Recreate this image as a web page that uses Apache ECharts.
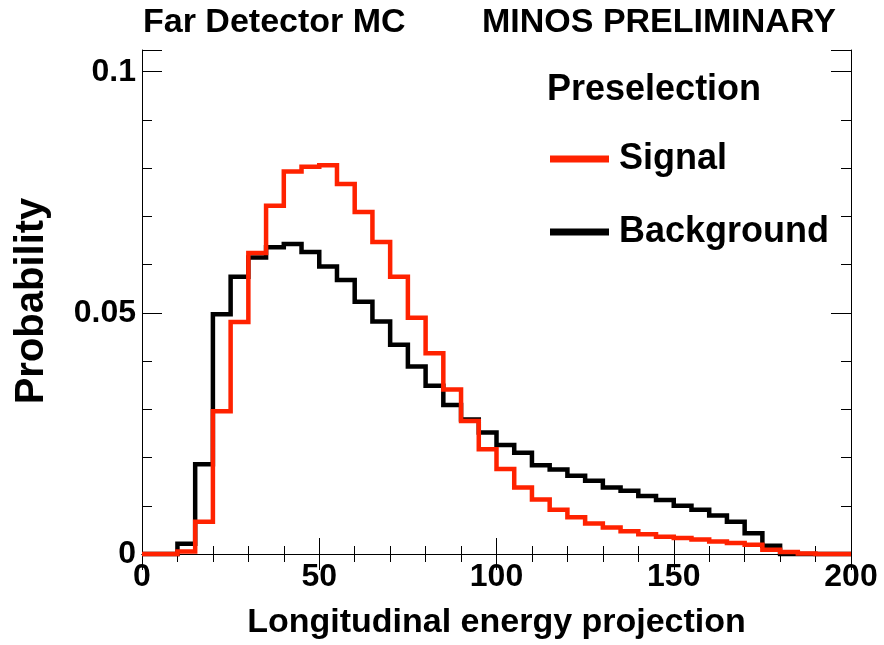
<!DOCTYPE html>
<html>
<head>
<meta charset="utf-8">
<script src="https://cdn.jsdelivr.net/npm/echarts@6/dist/echarts.min.js"></script>
<style>
  html, body { margin: 0; padding: 0; background: #fff; }
  #chart { width: 884px; height: 645px; }
</style>
</head>
<body>
<div id="chart"></div>
<script>
// Bin edges (width 5) of the histograms
const binEdges = [0,5,10,15,20,25,30,35,40,45,50,55,60,65,70,75,80,85,90,95,
                  100,105,110,115,120,125,130,135,140,145,150,155,160,165,170,175,180,185,190,195,200];

// Signal histogram (probability per bin)
const signalValues = [0,0,0.0005,0.0067,0.0296,0.0481,0.0624,0.0722,0.0793,0.0803,
                      0.0806,0.0767,0.0709,0.0647,0.0575,0.0490,0.0416,0.0341,0.0276,0.0217,
                      0.0176,0.0138,0.0113,0.0092,0.0076,0.0063,0.0055,0.0047,0.0041,0.0036,
                      0.0033,0.0030,0.0026,0.0023,0.0019,0.0009,0.0004,0.0001,0,0];

// Background histogram (probability per bin)
const backgroundValues = [0,0,0.0021,0.0186,0.0497,0.0575,0.0615,0.0636,0.0643,0.0626,
                          0.0596,0.0568,0.0523,0.0482,0.0434,0.0389,0.0349,0.0309,0.0279,0.0252,
                          0.0226,0.0210,0.0184,0.0175,0.0162,0.0152,0.0138,0.0131,0.0120,0.0112,
                          0.0100,0.0092,0.0080,0.0067,0.0043,0.0017,0,0,0,0];

const xTickLabels = ['0','50','100','150','200'];
const yTickLabels = {0:'0', 0.05:'0.05', 0.1:'0.1'};

const seriesNames = ['Signal', 'Background'];
const headerText = 'Preselection';
const leftTitle = 'Far Detector MC';
const rightTitle = 'MINOS PRELIMINARY';
const xTitle = 'Longitudinal energy projection';
const yTitle = 'Probability';

// Step outline of a histogram: each bin gives its left and right edge at its value
function histOutline(values) {
  const pts = [];
  values.forEach((v, i) => {
    pts.push([binEdges[i], v]);
    pts.push([binEdges[i + 1], v]);
  });
  return pts;
}

const FONT = 'Liberation Sans, Arial, Helvetica, sans-serif';

const chart = echarts.init(document.getElementById('chart'), null, {renderer: 'canvas'});

const xCommon = {
  type: 'value', min: 0, max: 200, interval: 50,
  axisLine: { show: true, lineStyle: { color: '#000', width: 1 } },
  axisTick: { show: true, inside: true, length: 16, lineStyle: { color: '#000', width: 1 } },
  minorTick: { show: true, splitNumber: 5, length: 8, lineStyle: { color: '#000', width: 1 } },
  splitLine: { show: false },
  minorSplitLine: { show: false }
};
const yCommon = {
  type: 'value', min: 0, max: 0.1045, interval: 0.05,
  axisLine: { show: true, onZero: false, lineStyle: { color: '#000', width: 1 } },
  axisTick: { show: true, inside: true, length: 20, lineStyle: { color: '#000', width: 1 } },
  minorTick: { show: true, splitNumber: 5, length: 10, lineStyle: { color: '#000', width: 1 } },
  splitLine: { show: false },
  minorSplitLine: { show: false }
};

const RED = '#ff2200';

const option = {
  animation: false,
  backgroundColor: '#fff',
  title: [
    { text: leftTitle, left: 143, top: 6, padding: 0,
      textStyle: { fontFamily: FONT, fontWeight: 'bold', fontSize: 34, color: '#000' } },
    { text: rightTitle, left: 482, top: 6, padding: 0,
      textStyle: { fontFamily: FONT, fontWeight: 'bold', fontSize: 34, color: '#000' } },
    { text: headerText, left: 547, top: 72, padding: 0,
      textStyle: { fontFamily: FONT, fontWeight: 'bold', fontSize: 36, color: '#000' } }
  ],
  legend: {
    data: seriesNames,
    orient: 'vertical',
    left: 545, top: 136,
    icon: 'rect',
    itemWidth: 57, itemHeight: 5,
    itemGap: 37,
    textStyle: { fontFamily: FONT, fontWeight: 'bold', fontSize: 36, color: '#000', padding: [0,0,0,6] }
  },
  grid: { left: 142, right: 33, top: 50, bottom: 87, containLabel: false },
  xAxis: [
    Object.assign({}, xCommon, {
      position: 'bottom',
      name: xTitle, nameLocation: 'middle', nameGap: 52,
      nameTextStyle: { fontFamily: FONT, fontWeight: 'bold', fontSize: 34, color: '#000' },
      axisLabel: {
        margin: 7, fontFamily: FONT, fontWeight: 'bold', fontSize: 32, color: '#000',
        formatter: (v) => xTickLabels[Math.round(v / 50)] ?? ''
      }
    }),
    Object.assign({}, xCommon, { position: 'top', axisLabel: { show: false } })
  ],
  yAxis: [
    Object.assign({}, yCommon, {
      position: 'left',
      axisLabel: {
        margin: 6, fontFamily: FONT, fontWeight: 'bold', fontSize: 32, color: '#000',
        showMaxLabel: false,
        formatter: (v) => { const k = Math.round(v * 100) / 100; return yTickLabels[k] ?? ''; }
      }
    }),
    Object.assign({}, yCommon, { position: 'right', axisLabel: { show: false } })
  ],
  graphic: [
    { type: 'text', x: 32, y: 301, rotation: Math.PI / 2,
      style: { text: yTitle, fontFamily: FONT, fontWeight: 'bold', fontSize: 40, fill: '#000',
               align: 'center', verticalAlign: 'middle' } }
  ],
  series: [
    { name: seriesNames[1], type: 'lines', coordinateSystem: 'cartesian2d', polyline: true,
      xAxisIndex: 0, yAxisIndex: 0, clip: false, silent: true,
      data: [{ coords: histOutline(backgroundValues) }],
      color: '#000', lineStyle: { color: '#000', width: 4.5, opacity: 1, curveness: 0, join: 'miter' }, z: 2 },
    { name: seriesNames[0], type: 'lines', coordinateSystem: 'cartesian2d', polyline: true,
      xAxisIndex: 0, yAxisIndex: 0, clip: false, silent: true,
      data: [{ coords: histOutline(signalValues) }],
      color: RED, lineStyle: { color: RED, width: 4.5, opacity: 1, curveness: 0, join: 'miter' }, z: 3 }
  ]
};
chart.setOption(option);
</script>
</body>
</html>
